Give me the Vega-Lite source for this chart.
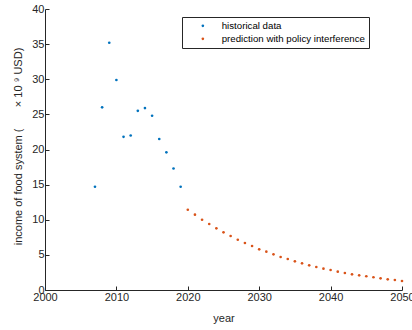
{
  "$schema": "https://vega.github.io/schema/vega-lite/v6.json",
  "width": 357,
  "height": 281,
  "autosize": {"type": "none"},
  "padding": {"left": 45, "top": 9, "right": 10, "bottom": 40},
  "background": "white",
  "config": {
    "view": {"stroke": null},
    "font": "Liberation Sans",
    "axis": {
      "grid": false,
      "labelFlush": false,
      "domainColor": "#262626",
      "domainWidth": 1,
      "tickColor": "#262626",
      "tickSize": -4,
      "labelColor": "#262626",
      "labelFont": "Liberation Sans",
      "labelFontSize": 11,
      "titleFont": "Liberation Sans",
      "titleFontSize": 11,
      "titleFontWeight": "normal",
      "titleColor": "#262626"
    }
  },
  "data": {
    "values": [
      {"year": 2007, "income": 14.7, "series": "historical data"},
      {"year": 2008, "income": 26.0, "series": "historical data"},
      {"year": 2009, "income": 35.2, "series": "historical data"},
      {"year": 2010, "income": 29.9, "series": "historical data"},
      {"year": 2011, "income": 21.8, "series": "historical data"},
      {"year": 2012, "income": 22.0, "series": "historical data"},
      {"year": 2013, "income": 25.5, "series": "historical data"},
      {"year": 2014, "income": 25.9, "series": "historical data"},
      {"year": 2015, "income": 24.8, "series": "historical data"},
      {"year": 2016, "income": 21.5, "series": "historical data"},
      {"year": 2017, "income": 19.6, "series": "historical data"},
      {"year": 2018, "income": 17.3, "series": "historical data"},
      {"year": 2019, "income": 14.7, "series": "historical data"},
      {"year": 2020, "income": 11.43, "series": "prediction with policy interference"},
      {"year": 2021, "income": 10.72, "series": "prediction with policy interference"},
      {"year": 2022, "income": 10.0, "series": "prediction with policy interference"},
      {"year": 2023, "income": 9.39, "series": "prediction with policy interference"},
      {"year": 2024, "income": 8.78, "series": "prediction with policy interference"},
      {"year": 2025, "income": 8.21, "series": "prediction with policy interference"},
      {"year": 2026, "income": 7.69, "series": "prediction with policy interference"},
      {"year": 2027, "income": 7.16, "series": "prediction with policy interference"},
      {"year": 2028, "income": 6.69, "series": "prediction with policy interference"},
      {"year": 2029, "income": 6.26, "series": "prediction with policy interference"},
      {"year": 2030, "income": 5.79, "series": "prediction with policy interference"},
      {"year": 2031, "income": 5.46, "series": "prediction with policy interference"},
      {"year": 2032, "income": 5.08, "series": "prediction with policy interference"},
      {"year": 2033, "income": 4.70, "series": "prediction with policy interference"},
      {"year": 2034, "income": 4.41, "series": "prediction with policy interference"},
      {"year": 2035, "income": 4.08, "series": "prediction with policy interference"},
      {"year": 2036, "income": 3.80, "series": "prediction with policy interference"},
      {"year": 2037, "income": 3.51, "series": "prediction with policy interference"},
      {"year": 2038, "income": 3.27, "series": "prediction with policy interference"},
      {"year": 2039, "income": 3.04, "series": "prediction with policy interference"},
      {"year": 2040, "income": 2.85, "series": "prediction with policy interference"},
      {"year": 2041, "income": 2.61, "series": "prediction with policy interference"},
      {"year": 2042, "income": 2.42, "series": "prediction with policy interference"},
      {"year": 2043, "income": 2.23, "series": "prediction with policy interference"},
      {"year": 2044, "income": 2.09, "series": "prediction with policy interference"},
      {"year": 2045, "income": 1.95, "series": "prediction with policy interference"},
      {"year": 2046, "income": 1.81, "series": "prediction with policy interference"},
      {"year": 2047, "income": 1.66, "series": "prediction with policy interference"},
      {"year": 2048, "income": 1.52, "series": "prediction with policy interference"},
      {"year": 2049, "income": 1.42, "series": "prediction with policy interference"},
      {"year": 2050, "income": 1.28, "series": "prediction with policy interference"}
    ]
  },
  "mark": {"type": "point", "filled": true, "shape": "circle", "size": 7, "opacity": 1},
  "encoding": {
    "x": {
      "field": "year",
      "type": "quantitative",
      "scale": {"domain": [2000, 2050], "nice": false, "zero": false},
      "axis": {
        "values": [2000, 2010, 2020, 2030, 2040, 2050],
        "format": "d",
        "title": "year",
        "labelPadding": 5,
        "titlePadding": 10
      }
    },
    "y": {
      "field": "income",
      "type": "quantitative",
      "scale": {"domain": [0, 40], "nice": false},
      "axis": {
        "values": [0, 5, 10, 15, 20, 25, 30, 35, 40],
        "title": "income of food system (\u00a0\u00a0\u00a0\u00a0\u00a0\u00a0\u00a0× 10 ⁹ USD)",
        "labelPadding": 5,
        "titleX": -22,
        "titleY": 137
      }
    },
    "color": {
      "field": "series",
      "type": "nominal",
      "scale": {
        "domain": ["historical data", "prediction with policy interference"],
        "range": ["#0072BD", "#D95319"]
      },
      "legend": {
        "title": null,
        "orient": "none",
        "legendX": 137,
        "legendY": 8,
        "direction": "vertical",
        "strokeColor": "#262626",
        "fillColor": "white",
        "padding": 4,
        "symbolType": "circle",
        "symbolSize": 7,
        "symbolOffset": 12,
        "labelOffset": 14,
        "labelFont": "Liberation Sans",
        "labelFontSize": 9.7,
        "labelColor": "#000000",
        "labelLimit": 300,
        "labelExpr": "datum.label + '\u2003\u2003'",
        "rowPadding": 2
      }
    }
  }
}
